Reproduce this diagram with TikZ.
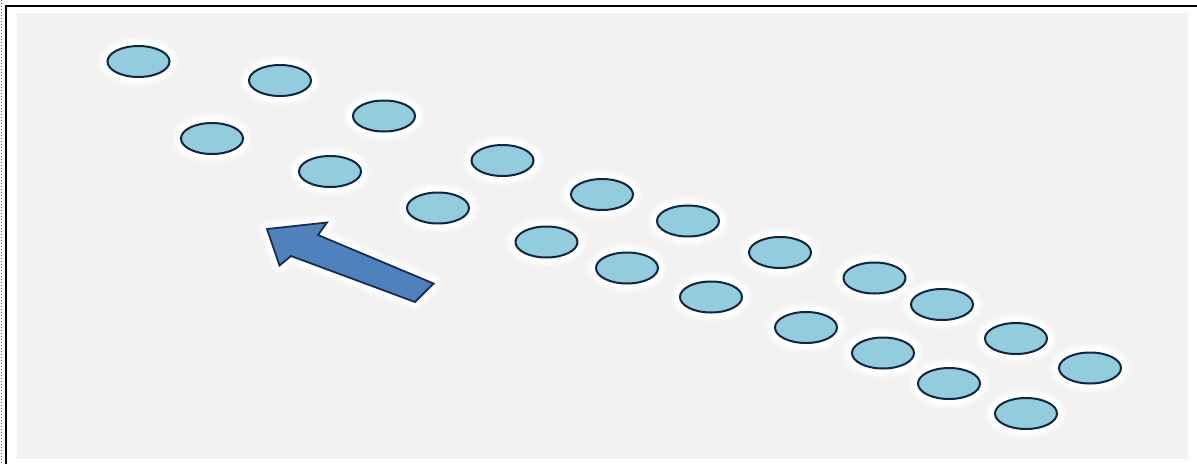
\documentclass[tikz,border=0pt]{standalone}
\usetikzlibrary{shapes.geometric}
\definecolor{bg}{HTML}{F2F2F2}
\definecolor{dotfill}{HTML}{93CDDD}
\definecolor{dotline}{HTML}{10253F}
\definecolor{arrfill}{HTML}{4F81BD}
\definecolor{arrline}{HTML}{172D4F}
\begin{document}
\begin{tikzpicture}[x=1pt,y=-1pt,
  dot/.style={ellipse, draw=dotline, fill=dotfill, line width=2pt,
    minimum width=62pt, minimum height=31pt, inner sep=0pt,
    preaction={draw=white, line width=20pt, draw opacity=0.3},
    preaction={draw=white, line width=15pt, draw opacity=0.5},
    preaction={draw=white, line width=10pt}},
  glowA/.style={draw=white, line width=18pt, draw opacity=0.3, line join=round},
  glowC/.style={draw=white, line width=13pt, draw opacity=0.5, line join=round},
  glowB/.style={draw=white, line width=8pt, line join=round},
  arrowshape/.style={fill=arrfill, draw=arrline, line width=1.8pt, line join=miter}]
\useasboundingbox (0,0) rectangle (1197,464);
\fill[white] (0,0) rectangle (1197,464);
\fill[bg] (17,13) rectangle (1188,459);
\draw[line width=2pt] (6,464) -- (6,6) -- (1197,6);
\draw[gray!70!blue, dotted, line width=1pt] (1,0) -- (1,464);
% ellipses
\node[dot] (e1) at (138.5,61.5) {};
\node[dot] (e2) at (280,80.5) {};
\node[dot] (e3) at (212,138.5) {};
\node[dot] (e4) at (384,116) {};
\node[dot] (e5) at (330,171.5) {};
\node[dot] (e6) at (502.5,160.5) {};
\node[dot] (e7) at (438,208) {};
\node[dot] (e8) at (602,194.5) {};
\node[dot] (e9) at (546.5,242) {};
\node[dot] (e10) at (688,221) {};
\node[dot] (e11) at (627,268) {};
\node[dot] (e12) at (780,252.5) {};
\node[dot] (e13) at (711,297) {};
\node[dot] (e14) at (874.5,278) {};
\node[dot] (e15) at (806,327.5) {};
\node[dot] (e16) at (942,304.5) {};
\node[dot] (e17) at (883,353) {};
\node[dot] (e18) at (1016,338.5) {};
\node[dot] (e19) at (949,383.5) {};
\node[dot] (e20) at (1090,368) {};
\node[dot] (e21) at (1026,413.5) {};
% arrow
\def\arrowpath{(267,229) -- (327,222.5) -- (318,235) -- (433.5,283.5) -- (415,302) -- (291,256) -- (279.5,265.5) -- cycle}
\path[glowA] \arrowpath;
\path[glowC] \arrowpath;
\path[glowB] \arrowpath;
\path[arrowshape] \arrowpath;
\end{tikzpicture}
\end{document}
